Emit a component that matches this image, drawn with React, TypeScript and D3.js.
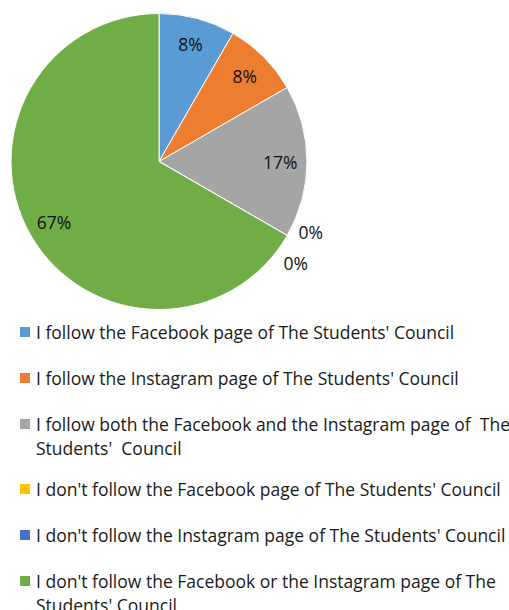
import React from "react";
import * as d3 from "d3";

const categories = [
  "I follow the Facebook page of The Students' Council",
  "I follow the Instagram page of The Students' Council",
  "I follow both the Facebook and the Instagram page of  The Students'  Council",
  "I don't follow the Facebook page of The Students' Council",
  "I don't follow the Instagram page of The Students' Council",
  "I don't follow the Facebook or the Instagram page of The Students' Council",
];
const legendLines = [
  ["I follow the Facebook page of The Students' Council"],
  ["I follow the Instagram page of The Students' Council"],
  ["I follow both the Facebook and the Instagram page of  The", "Students'  Council"],
  ["I don't follow the Facebook page of The Students' Council"],
  ["I don't follow the Instagram page of The Students' Council"],
  ["I don't follow the Facebook or the Instagram page of The", "Students' Council"],
];
const values = [1, 1, 2, 0, 0, 8];
const colors = ["#5B9BD5", "#ED7D31", "#A5A5A5", "#FFC000", "#4472C4", "#70AD47"];

const W = 509;
const H = 610;
const FONT = "'Open Sans', 'Noto Sans', sans-serif";

export default function App() {
  const cx = 159;
  const cy = 161.5;
  const r = 148;
  const total = d3.sum(values);
  const pie = d3.pie<number>().sort(null).value((d) => d)(values);
  const arc = d3.arc<d3.PieArcDatum<number>>().innerRadius(0).outerRadius(r);
  const labelArc = d3.arc<d3.PieArcDatum<number>>().innerRadius(r * 0.82).outerRadius(r * 0.82);

  let zeroCount = 0;
  const labels = pie.map((p, i) => {
    const pct = d3.format(".0%")(values[i] / total);
    if (values[i] === 0) {
      const a = p.startAngle;
      const k = zeroCount++;
      const rr = r + 10;
      const x = Math.sin(a) * rr + 15 - k * 15;
      const y = -Math.cos(a) * rr - 8.5 + k * 31;
      return { x, y, pct };
    }
    const [x, y] = labelArc.centroid(p);
    return { x, y, pct };
  });

  const legendTop = [332, 378, 424, 489, 535, 581];

  return (
    <svg width={W} height={H} style={{ position: "absolute", left: 0, top: 0 }}>
      <rect width={W} height={H} fill="#fff" />
      <g transform={`translate(${cx},${cy})`}>
        {pie.map((p, i) => (
          <path key={i} d={arc(p) || ""} fill={colors[i]} stroke="#fff" strokeWidth={1} />
        ))}
        {labels.map((l, i) => (
          <text
            key={i}
            x={l.x}
            y={l.y}
            textAnchor="middle"
            dominantBaseline="central"
            fontFamily={FONT}
            fontSize={17.5}
            fill="#111"
          >
            {l.pct}
          </text>
        ))}
      </g>
      {legendLines.map((lines, i) => (
        <g key={i}>
          <rect x={20} y={legendTop[i] - 5} width={10} height={10} fill={colors[i]} />
          {lines.map((t, j) => (
            <text
              key={j}
              x={36}
              y={legendTop[i] + j * 24}
              dominantBaseline="central"
              fontFamily={FONT}
              fontSize={17.5}
              fill="#1a1a1a"
              style={{ whiteSpace: "pre" }}
            >
              {t}
            </text>
          ))}
        </g>
      ))}
    </svg>
  );
}
